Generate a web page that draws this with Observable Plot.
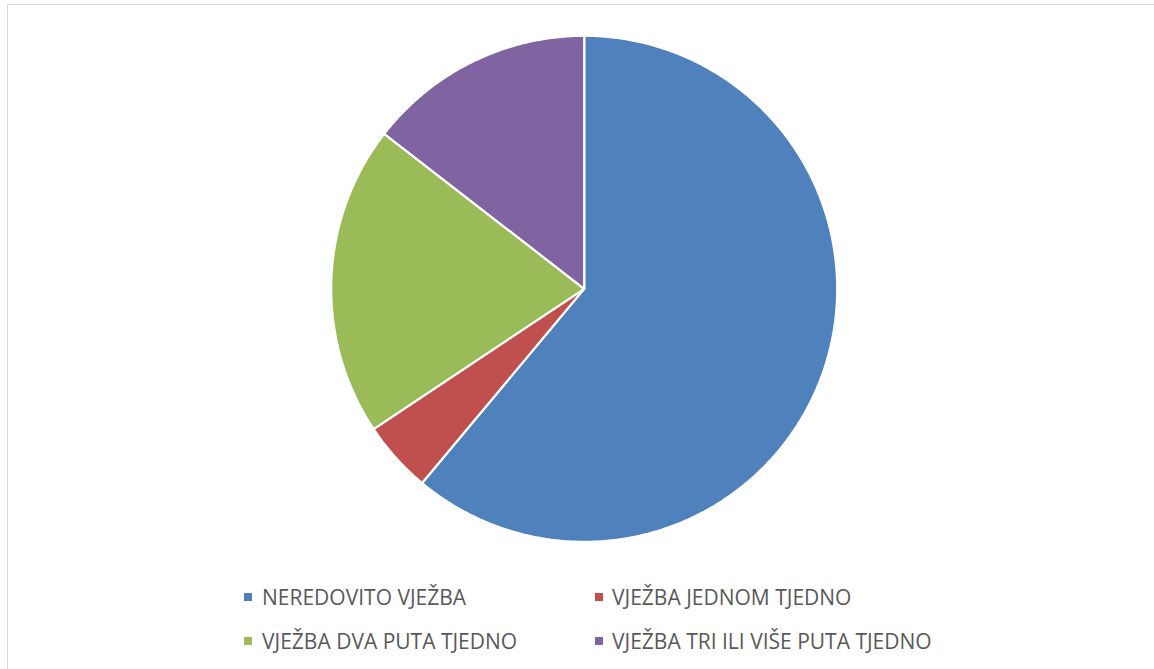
<!DOCTYPE html>
<html>
<head>
<meta charset="utf-8">
<script src="https://cdn.jsdelivr.net/npm/d3@7"></script>
<script src="https://cdn.jsdelivr.net/npm/@observablehq/plot@0.6"></script>
<style>
  html, body { margin: 0; padding: 0; background: #fff; }
  #wrap { position: relative; width: 1154px; height: 669px; overflow: hidden; font-family: "Open Sans", sans-serif; }
  #frame { position: absolute; left: 7px; top: 4px; width: 1160px; height: 680px; border: 1.5px solid #d9d9d9; box-sizing: border-box; }
  #chart { position: absolute; left: 0; top: 0; }
  .leg { position: absolute; font-size: 21px; line-height: 21px; color: #595959; white-space: nowrap; }
  .sw { position: absolute; width: 8px; height: 8px; }
</style>
</head>
<body>
<div id="wrap">
  <div id="frame"></div>
  <div id="chart"></div>
  <div id="legend"></div>
</div>
<script>
const categories = ["NEREDOVITO VJEŽBA", "VJEŽBA JEDNOM TJEDNO", "VJEŽBA DVA PUTA TJEDNO", "VJEŽBA TRI ILI VIŠE PUTA TJEDNO"];
const values = [80, 6, 26, 19];
const colors = ["#4f81bd", "#c0504d", "#9bbb59", "#8064a2"];

// pie layout (clockwise from 12 o'clock)
const arcs = d3.pie().sort(null).value(d => d.value)(categories.map((c, i) => ({key: c, value: values[i]})));
const pts = [];
for (const a of arcs) {
  const key = a.data.key;
  pts.push({key, x: 0, y: 0});
  const n = Math.max(4, Math.ceil((a.endAngle - a.startAngle) / 0.01));
  for (let k = 0; k <= n; k++) {
    const t = a.startAngle + (a.endAngle - a.startAngle) * k / n;
    pts.push({key, x: Math.sin(t), y: Math.cos(t)});
  }
  pts.push({key, x: 0, y: 0});
}

const cx = 583.7, cy = 288.3, r = 253;
const plot = Plot.plot({
  width: 1154,
  height: 560,
  margin: 0,
  x: {domain: [-1, 1], range: [cx - r, cx + r], axis: null},
  y: {domain: [-1, 1], range: [cy + r, cy - r], axis: null},
  color: {domain: categories, range: colors},
  style: {background: "transparent"},
  marks: [
    Plot.line(pts, {x: "x", y: "y", z: "key", fill: "key", stroke: "white", strokeWidth: 2.2, strokeLinejoin: "miter", curve: "linear"})
  ]
});
document.getElementById("chart").appendChild(plot);

// legend
const legPos = [
  {sx: 244, tx: 262, top: 586.5},
  {sx: 595, tx: 612, top: 586.5},
  {sx: 244, tx: 262, top: 630.5},
  {sx: 595, tx: 612, top: 630.5}
];
const leg = document.getElementById("legend");
categories.forEach((c, i) => {
  const p = legPos[i];
  const sw = document.createElement("div");
  sw.className = "sw";
  sw.style.left = p.sx + "px";
  sw.style.top = (p.top + 6.5) + "px";
  sw.style.background = colors[i];
  leg.appendChild(sw);
  const t = document.createElement("div");
  t.className = "leg";
  t.style.left = p.tx + "px";
  t.style.top = p.top + "px";
  t.textContent = c;
  leg.appendChild(t);
});
</script>
</body>
</html>
